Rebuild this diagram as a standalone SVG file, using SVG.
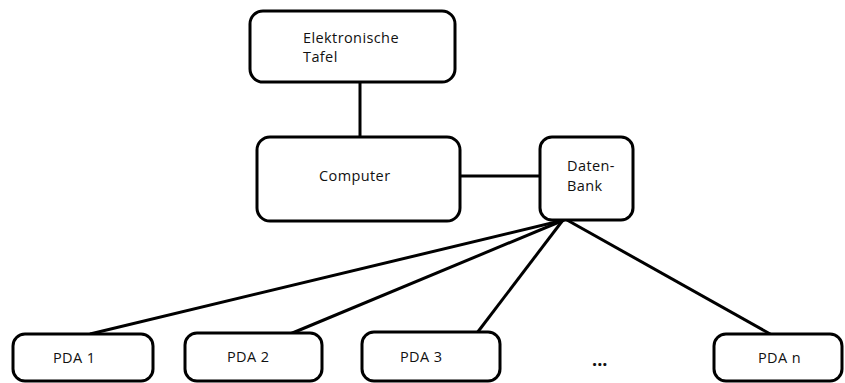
<svg xmlns="http://www.w3.org/2000/svg" width="845" height="383" viewBox="0 0 845 383">
<style>
.box{fill:#fff;stroke:#000;stroke-width:3}
.t{font-family:"Open Sans","Liberation Sans",sans-serif;font-size:14.5px;letter-spacing:0.4px;fill:#111}
.c{stroke:#000;stroke-width:3;fill:none}
</style>
<rect width="845" height="383" fill="#fff"/>
<g id="connectors">
<line class="c" x1="360" y1="82" x2="360" y2="137"/>
<line class="c" x1="460" y1="176" x2="540" y2="176"/>
<line class="c" x1="564" y1="220" x2="90" y2="334"/>
<line class="c" x1="564" y1="220" x2="290" y2="334"/>
<line class="c" x1="563" y1="220" x2="477" y2="333"/>
<line class="c" x1="567" y1="220" x2="772" y2="335"/>
</g>
<g id="tafel">
<rect class="box" x="250" y="11" width="205" height="71" rx="13"/>
<text class="t" x="303" y="43">Elektronische</text>
<text class="t" x="303" y="62">Tafel</text>
</g>
<g id="computer">
<rect class="box" x="257" y="137" width="203" height="84" rx="13"/>
<text class="t" x="319" y="181">Computer</text>
</g>
<g id="datenbank">
<rect class="box" x="540" y="137" width="93" height="83" rx="12"/>
<text class="t" x="567" y="171">Daten-</text>
<text class="t" x="567" y="191">Bank</text>
</g>
<g id="pda1">
<rect class="box" x="13" y="334" width="140" height="47" rx="12"/>
<text class="t" x="53" y="363">PDA 1</text>
</g>
<g id="pda2">
<rect class="box" x="185" y="333" width="137" height="48" rx="12"/>
<text class="t" x="227" y="362">PDA 2</text>
</g>
<g id="pda3">
<rect class="box" x="362" y="332" width="138" height="49" rx="12"/>
<text class="t" x="400" y="362">PDA 3</text>
</g>
<g id="dots">
<text x="592" y="366" style="font-family:'Open Sans','Liberation Sans',sans-serif;font-size:18px;font-weight:bold;fill:#111">...</text>
</g>
<g id="pdan">
<rect class="box" x="714" y="334" width="128" height="47" rx="12"/>
<text class="t" x="758" y="363">PDA n</text>
</g>
</svg>
